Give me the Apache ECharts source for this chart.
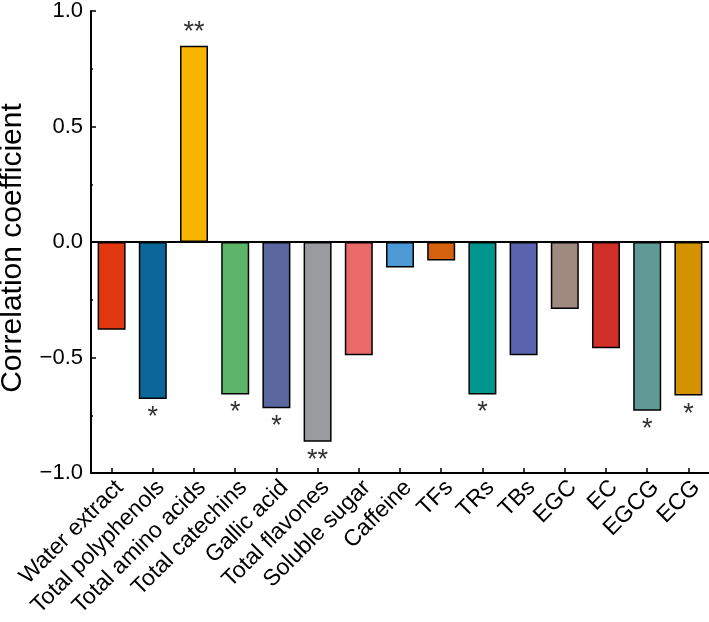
<!DOCTYPE html>
<html>
<head>
<meta charset="utf-8">
<script src="https://cdn.jsdelivr.net/npm/echarts@6/dist/echarts.min.js"></script>
<style>
html,body{margin:0;padding:0;background:#fff;}
#chart{width:709px;height:622px;}
</style>
</head>
<body>
<div id="chart"></div>
<script>
var categories = ['Water extract','Total polyphenols','Total amino acids','Total catechins','Gallic acid','Total flavones','Soluble sugar','Caffeine','TFs','TRs','TBs','EGC','EC','EGCG','ECG'];
var values = [-0.38, -0.68, 0.85, -0.66, -0.72, -0.865, -0.49, -0.11, -0.08, -0.66, -0.49, -0.29, -0.46, -0.73, -0.665];
var significance = ['', '*', '**', '*', '*', '**', '', '', '', '*', '', '', '', '*', '*'];
var colors = ['#E2380F','#0B6699','#F7B500','#5DB56A','#5B67A0','#999B9E','#EA6A6A','#4B9AD6','#D6620F','#009690','#5A63AE','#A08A80','#D1302A','#5F9A97','#D49100'];
var yTicks = [-1.0, -0.5, 0.0, 0.5, 1.0];

var FONT = 'Arial, "Liberation Sans", sans-serif';
var data = values.map(function (v, i) {
  return {
    value: v,
    itemStyle: { color: colors[i] },
    label: { formatter: significance[i], distance: v >= 0 ? 0 : 5 }
  };
});

var chart = echarts.init(document.getElementById('chart'));
chart.setOption({
  animation: false,
  grid: { left: 91, right: 0, top: 11, bottom: 149, containLabel: false, outerBoundsMode: 'none' },
  xAxis: {
    type: 'category',
    data: categories,
    axisLine: { onZero: false, lineStyle: { color: '#000', width: 2 } },
    axisTick: { show: true, inside: true, length: 5, alignWithLabel: true, lineStyle: { color: '#000', width: 1.5 } },
    axisLabel: { rotate: 45, interval: 0, color: '#000', fontSize: 23, fontFamily: FONT, margin: 3, verticalAlign: 'top' }
  },
  yAxis: {
    type: 'value',
    min: yTicks[0], max: yTicks[yTicks.length - 1], interval: 0.5,
    name: 'Correlation coefficient',
    nameLocation: 'middle',
    nameGap: 63,
    nameTextStyle: { color: '#000', fontSize: 30, fontFamily: FONT, padding: [0, 12, 0, 0] },
    axisLine: { show: true, lineStyle: { color: '#000', width: 2 } },
    axisTick: { show: true, inside: true, length: 5, lineStyle: { color: '#000', width: 1.5 } },
    minorTick: { show: true, splitNumber: 2, length: 2, lineStyle: { color: '#000', width: 1.5 } },
    splitLine: { show: false },
    axisLabel: {
      color: '#000', fontSize: 22, fontFamily: FONT, margin: 8,
      formatter: function (v) { return (v < 0 ? '\u2212' : '') + Math.abs(v).toFixed(1); }
    }
  },
  series: [{
    type: 'bar',
    data: data,
    barWidth: 28,
    itemStyle: { borderColor: '#000', borderWidth: 1.5 },
    label: { show: true, position: 'outside', color: '#333', fontSize: 27, fontFamily: FONT },
    markLine: {
      silent: true, symbol: 'none', label: { show: false },
      lineStyle: { color: '#000', width: 2, type: 'solid' },
      data: [{ yAxis: 0 }]
    }
  }]
});
</script>
</body>
</html>
